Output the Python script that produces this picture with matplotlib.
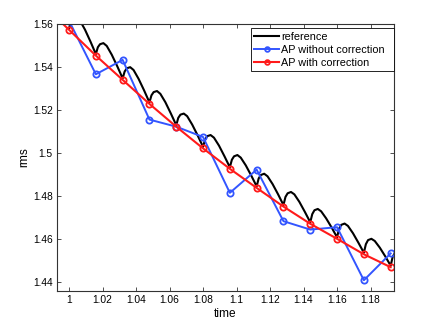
import matplotlib
matplotlib.use("Agg")
import matplotlib.pyplot as plt
from matplotlib.ticker import FormatStrFormatter

plt.rcParams['font.family'] = ['Liberation Sans', 'DejaVu Sans']

# --- sampled estimates (AP) ---
t_ap = [0.984, 1.000, 1.016, 1.032, 1.048, 1.064, 1.080, 1.096,
        1.112, 1.128, 1.144, 1.160, 1.176, 1.192]
rms_no_corr = [1.5720, 1.5615, 1.5366, 1.5433, 1.5155, 1.5122, 1.5074, 1.4814,
               1.4922, 1.4682, 1.4643, 1.4654, 1.4407, 1.4532]
rms_corr = [1.5693, 1.5573, 1.5453, 1.5340, 1.5228, 1.5122, 1.5021, 1.4926,
            1.4837, 1.4750, 1.4670, 1.4600, 1.4528, 1.4468]

# --- reference curve (cusp / rise / peak / fall) ---
t_ref = [1.0000, 1.0012, 1.0025, 1.0045, 1.0065, 1.0095, 1.0128,
         1.0160, 1.0172, 1.0185, 1.0205, 1.0225, 1.0255, 1.0288,
         1.0320, 1.0332, 1.0345, 1.0365, 1.0385, 1.0415, 1.0448,
         1.0480, 1.0492, 1.0505, 1.0525, 1.0545, 1.0575, 1.0608,
         1.0640, 1.0652, 1.0665, 1.0685, 1.0705, 1.0735, 1.0768,
         1.0800, 1.0812, 1.0825, 1.0845, 1.0865, 1.0895, 1.0928,
         1.0960, 1.0972, 1.0985, 1.1005, 1.1025, 1.1055, 1.1088,
         1.1120, 1.1132, 1.1145, 1.1165, 1.1185, 1.1215, 1.1248,
         1.1280, 1.1292, 1.1305, 1.1325, 1.1345, 1.1375, 1.1408,
         1.1440, 1.1452, 1.1465, 1.1485, 1.1505, 1.1535, 1.1568,
         1.1600, 1.1612, 1.1625, 1.1645, 1.1665, 1.1695, 1.1728,
         1.1760, 1.1772, 1.1785, 1.1805, 1.1825, 1.1855, 1.1888,
         1.1920, 1.1932, 1.1945]
rms_ref = [1.5580, 1.5611, 1.5625, 1.5630, 1.5616, 1.5574, 1.5518,
           1.5460, 1.5492, 1.5506, 1.5511, 1.5498, 1.5457, 1.5403,
           1.5347, 1.5379, 1.5394, 1.5399, 1.5386, 1.5345, 1.5291,
           1.5235, 1.5268, 1.5283, 1.5288, 1.5275, 1.5236, 1.5183,
           1.5129, 1.5163, 1.5178, 1.5183, 1.5171, 1.5132, 1.5081,
           1.5028, 1.5062, 1.5078, 1.5083, 1.5071, 1.5034, 1.4984,
           1.4933, 1.4968, 1.4984, 1.4990, 1.4978, 1.4942, 1.4894,
           1.4844, 1.4881, 1.4897, 1.4903, 1.4891, 1.4855, 1.4807,
           1.4757, 1.4795, 1.4812, 1.4818, 1.4807, 1.4772, 1.4725,
           1.4677, 1.4715, 1.4733, 1.4739, 1.4728, 1.4695, 1.4652,
           1.4607, 1.4647, 1.4665, 1.4671, 1.4660, 1.4626, 1.4581,
           1.4535, 1.4575, 1.4594, 1.4600, 1.4590, 1.4559, 1.4518,
           1.4475, 1.4516, 1.4534]

x_ticks = [1.00, 1.02, 1.04, 1.06, 1.08, 1.10, 1.12, 1.14, 1.16, 1.18]
y_ticks = [1.44, 1.46, 1.48, 1.50, 1.52, 1.54, 1.56]

fig = plt.figure(figsize=(4.36, 3.28), dpi=100)
ax = fig.add_axes([0.1307, 0.1128, 0.773, 0.814])

ax.plot(t_ref, rms_ref, color='black', lw=1.5, label='reference')
ax.plot(t_ap, rms_no_corr, color='#3355ff', lw=1.4, marker='o', ms=4.5,
        mfc='none', mew=1.3, label='AP without correction')
ax.plot(t_ap, rms_corr, color='#ff1a1a', lw=1.5, marker='o', ms=4.5,
        mfc='none', mew=1.3, label='AP with correction')

ax.set_xlim(0.9928, 1.194)
ax.set_ylim(1.4357, 1.56)
ax.set_xticks(x_ticks)
ax.set_yticks(y_ticks)
ax.xaxis.set_major_formatter(FormatStrFormatter('%g'))
ax.yaxis.set_major_formatter(FormatStrFormatter('%g'))
ax.tick_params(direction='in', length=3, width=0.6, labelsize=7.4,
               top=True, right=True, pad=3, color='#333333')
for sp in ax.spines.values():
    sp.set_color('#333333')
    sp.set_linewidth(0.8)

ax.set_xlabel('time', fontsize=8.6, labelpad=2)
ax.set_ylabel('rms', fontsize=8.6, labelpad=2)

leg = ax.legend(loc='upper right', bbox_to_anchor=(0.5757, 0.0, 0.4243, 0.984),
                mode='expand', borderaxespad=0.0, fontsize=7.8, fancybox=False,
                framealpha=1.0, edgecolor='black', borderpad=0.3,
                labelspacing=0.3, handlelength=2.3, handletextpad=0.15,
                numpoints=1, markerscale=0.75)
leg.get_frame().set_linewidth(0.6)

fig.savefig('out.png', dpi=100)
